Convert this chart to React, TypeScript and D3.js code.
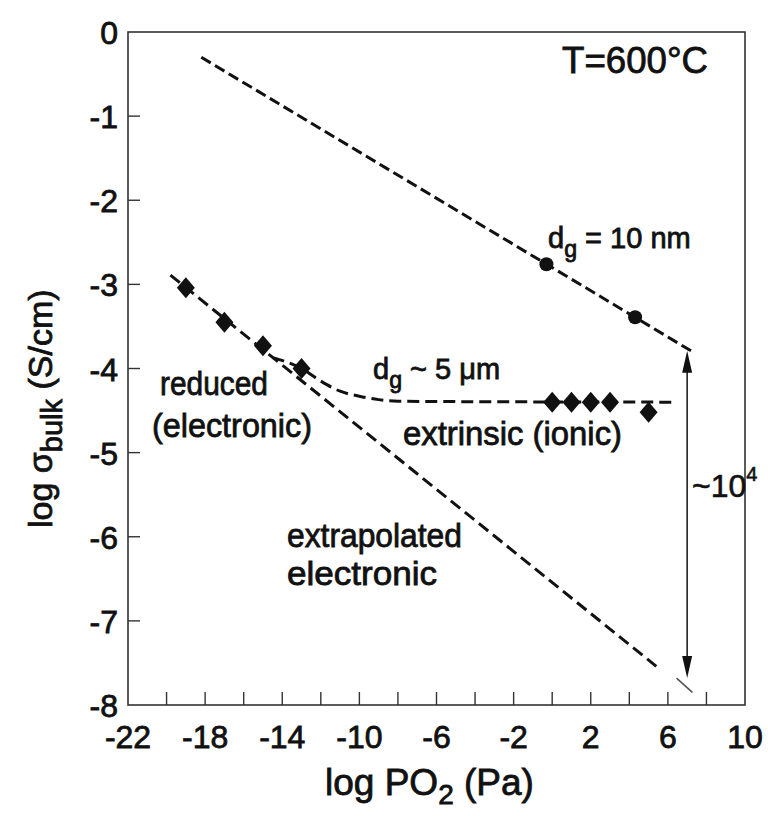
import React, { useRef, useEffect } from "react";
import * as d3 from "d3";

// tick labels
const xTickLabels = [-22, -18, -14, -10, -6, -2, 2, 6, 10];
const xMinorTicks = [-20, -18, -16, -14, -12, -10, -8, -6, -4, -2, 0, 2, 4, 6, 8];
const yTickLabels = [0, -1, -2, -3, -4, -5, -6, -7, -8];
const yMinorTicks = [-1, -2, -3, -4, -5, -6, -7];

// d_g = 10 nm line and points
const nanoLineX = [-18.2, 7.2];
const nanoLineY = [-0.3, -3.79];
const nanoPtsX = [-0.3, 4.3];
const nanoPtsY = [-2.76, -3.39];

// electronic (reduced) line, and its little tail past the arrow
const elecLineX = [-19.8, 5.4];
const elecLineY = [-2.89, -7.54];
const elecTailX = [6.45, 7.27];
const elecTailY = [-7.68, -7.85];

// d_g ~ 5 um (ionic plateau) curve
const ionicX = [-14.5, -13, -12, -11, -10, -9, -8, 6.2];
const ionicY = [-3.87, -4.0, -4.15, -4.27, -4.33, -4.37, -4.39, -4.4];

// micro-grain diamonds
const microPtsX = [-19, -17, -15, -13, 0, 1, 2, 3, 5];
const microPtsY = [-3.04, -3.45, -3.73, -4.0, -4.4, -4.4, -4.4, -4.4, -4.52];

// the ~10^4 arrow
const arrowX = 7;
const arrowY = [-3.79, -7.68];

const W = 768;
const H = 816;
const FONT = "'Liberation Sans', Arial, sans-serif";

function Chart() {
  const svgRef = useRef(null);

  useEffect(() => {
    const svg = d3.select(svgRef.current);
    svg.selectAll("*").remove();

    const x = d3.scaleLinear().domain([-22, 10]).range([128, 745]);
    const y = d3.scaleLinear().domain([-8, 0]).range([705, 32]);

    // frame
    svg
      .append("rect")
      .attr("x", x(-22))
      .attr("y", y(0))
      .attr("width", x(10) - x(-22))
      .attr("height", y(-8) - y(0))
      .attr("fill", "none")
      .attr("stroke", "#333")
      .attr("stroke-width", 1.6);

    // ticks, pointing inward
    svg
      .selectAll(".xtick")
      .data(xMinorTicks)
      .join("line")
      .attr("class", "xtick")
      .attr("x1", (d) => x(d))
      .attr("x2", (d) => x(d))
      .attr("y1", y(-8))
      .attr("y2", y(-8) - 13)
      .attr("stroke", "#333")
      .attr("stroke-width", 1.4);

    svg
      .selectAll(".ytick")
      .data(yMinorTicks)
      .join("line")
      .attr("class", "ytick")
      .attr("x1", x(-22))
      .attr("x2", x(-22) + 12)
      .attr("y1", (d) => y(d))
      .attr("y2", (d) => y(d))
      .attr("stroke", "#333")
      .attr("stroke-width", 1.4);

    const ink = (sel, w = 0.8) =>
      sel
        .attr("font-family", FONT)
        .attr("fill", "#111")
        .attr("stroke", "#111")
        .attr("stroke-width", w);

    svg
      .selectAll(".xlab")
      .data(xTickLabels)
      .join("text")
      .attr("class", "xlab")
      .attr("x", (d) => x(d))
      .attr("y", 748)
      .attr("text-anchor", "middle")
      .attr("font-size", 32)
      .text((d) => String(d))
      .call(ink);

    svg
      .selectAll(".ylab")
      .data(yTickLabels)
      .join("text")
      .attr("class", "ylab")
      .attr("x", 118)
      .attr("y", (d) => y(d) + 12)
      .attr("text-anchor", "end")
      .attr("font-size", 32)
      .text((d) => String(d))
      .call(ink);

    // dashed lines
    const line = d3
      .line()
      .x((d) => x(d[0]))
      .y((d) => y(d[1]));
    const curve = d3
      .line()
      .curve(d3.curveMonotoneX)
      .x((d) => x(d[0]))
      .y((d) => y(d[1]));

    const dashed = (pts, gen, dash) =>
      svg
        .append("path")
        .attr("d", gen(pts))
        .attr("fill", "none")
        .attr("stroke", "#111")
        .attr("stroke-width", 3)
        .attr("stroke-dasharray", dash);

    dashed(d3.zip(nanoLineX, nanoLineY), line, "11 5");
    dashed(d3.zip(elecLineX, elecLineY), line, "12 6");
    dashed(d3.zip(ionicX, ionicY), curve, "12 6");
    svg
      .append("path")
      .attr("d", line(d3.zip(elecTailX, elecTailY)))
      .attr("stroke", "#555")
      .attr("stroke-width", 1.6);

    // markers
    svg
      .selectAll(".nano")
      .data(d3.zip(nanoPtsX, nanoPtsY))
      .join("circle")
      .attr("class", "nano")
      .attr("cx", (d) => x(d[0]))
      .attr("cy", (d) => y(d[1]))
      .attr("r", 7)
      .attr("fill", "#111");

    svg
      .selectAll(".micro")
      .data(d3.zip(microPtsX, microPtsY))
      .join("path")
      .attr("class", "micro")
      .attr("d", (d) => {
        const cx = x(d[0]);
        const cy = y(d[1]);
        return `M${cx},${cy - 10.5}L${cx + 9},${cy}L${cx},${cy + 10.5}L${cx - 9},${cy}Z`;
      })
      .attr("fill", "#111");

    // double arrow
    const ax = x(arrowX);
    const yTop = y(arrowY[0]);
    const yBot = y(arrowY[1]);
    svg
      .append("line")
      .attr("x1", ax)
      .attr("x2", ax)
      .attr("y1", yTop + 6)
      .attr("y2", yBot - 6)
      .attr("stroke", "#222")
      .attr("stroke-width", 1.6);
    svg
      .append("path")
      .attr("d", `M${ax},${yTop}L${ax + 5},${yTop + 22}L${ax - 5},${yTop + 22}Z`)
      .attr("fill", "#111");
    svg
      .append("path")
      .attr("d", `M${ax},${yBot}L${ax + 5},${yBot - 22}L${ax - 5},${yBot - 22}Z`)
      .attr("fill", "#111");

    // annotation text
    const note = (tx, ty, str, size, len) =>
      svg
        .append("text")
        .attr("x", tx)
        .attr("y", ty)
        .attr("font-size", size)
        .attr("textLength", len)
        .attr("lengthAdjust", "spacingAndGlyphs")
        .text(str)
        .call(ink);

    note(562, 73, "T=600°C", 36, 146);
    note(160, 395, "reduced", 33, 108);
    note(152, 437, "(electronic)", 33, 160);
    note(403, 445, "extrinsic (ionic)", 33, 219);
    note(287, 547, "extrapolated", 33, 175);
    note(287, 585, "electronic", 33, 150);

    // d_g labels with subscript
    const sub = (tx, ty, rest, size) => {
      const t = svg.append("text").attr("x", tx).attr("y", ty).attr("font-size", size).call(ink);
      t.append("tspan").text("d");
      t.append("tspan").attr("dy", 9).attr("font-size", size * 0.8).text("g");
      t.append("tspan").attr("dy", -9).text(rest);
      return t;
    };
    sub(548, 248, " = 10 nm", 29);
    sub(373, 379, " ~ 5 μm", 29);

    const pw = svg.append("text").attr("x", 692).attr("y", 497).attr("font-size", 32).call(ink, 0.6);
    pw.append("tspan").text("~10");
    pw.append("tspan").attr("dy", -16).attr("font-size", 20).text("4");

    // axis titles
    const xt = svg
      .append("text")
      .attr("x", 325)
      .attr("y", 795)
      .attr("font-size", 37)
      .call(ink);
    xt.append("tspan").text("log PO");
    xt.append("tspan").attr("dy", 9).attr("font-size", 28).text("2");
    xt.append("tspan").attr("dy", -9).text(" (Pa)");

    const yt = svg
      .append("text")
      .attr("transform", "translate(52,528) rotate(-90)")
      .attr("font-size", 34)
      .call(ink);
    yt.append("tspan").text("log σ");
    yt.append("tspan").attr("dy", 10).attr("font-size", 29).text("bulk");
    yt.append("tspan").attr("dy", -10).text(" (S/cm)");
  }, []);

  return <svg ref={svgRef} width={W} height={H} style={{ display: "block", background: "#fff" }}></svg>;
}

export default function App() {
  return (
    <div style={{ position: "absolute", left: 0, top: 0, width: W, height: H, background: "#fff" }}>
      <Chart />
    </div>
  );
}
